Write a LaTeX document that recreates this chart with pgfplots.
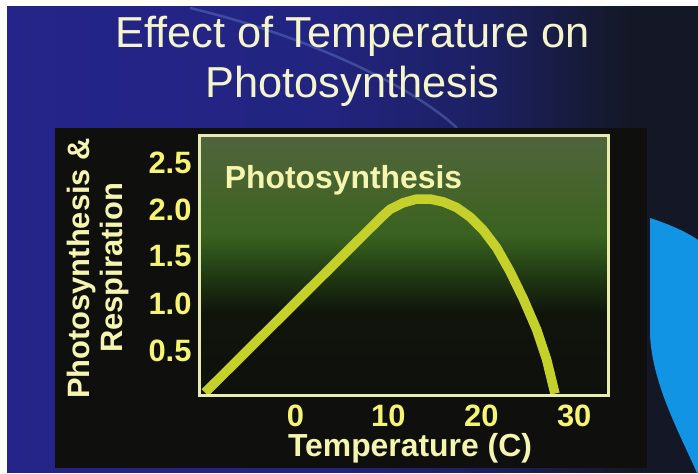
\documentclass[border=0pt]{standalone}
\usepackage{pgfplots}
\pgfplotsset{compat=1.18}
\usepackage{fontspec}
\setmainfont{Liberation Sans}

\definecolor{sb1}{RGB}{36,36,138}
\definecolor{sb2}{RGB}{34,36,128}
\definecolor{sb3}{RGB}{28,32,96}
\definecolor{sb4}{RGB}{20,24,38}
\definecolor{streak}{RGB}{120,150,220}
\definecolor{swoosh}{RGB}{18,148,228}
\definecolor{panel}{RGB}{15,16,14}
\definecolor{pb0}{RGB}{14,16,12}
\definecolor{pb1}{RGB}{16,21,12}
\definecolor{pb2}{RGB}{30,55,18}
\definecolor{pb3}{RGB}{58,98,32}
\definecolor{pb4}{RGB}{70,100,44}
\definecolor{pb5}{RGB}{80,100,62}
\definecolor{titlecol}{RGB}{245,245,205}
\definecolor{tickcol}{RGB}{245,245,115}
\definecolor{labcol}{RGB}{245,245,175}
\definecolor{curvecol}{RGB}{198,208,42}
\definecolor{boxcol}{RGB}{232,236,172}

\pgfdeclarehorizontalshading{slidebg}{100bp}{color(0bp)=(sb1); color(25bp)=(sb1); color(48bp)=(sb2); color(60bp)=(sb3); color(70bp)=(sb4); color(100bp)=(sb4)}
\pgfdeclareverticalshading{plotbg}{100bp}{color(0bp)=(pb0); color(25bp)=(pb0); color(41bp)=(pb1); color(47.5bp)=(pb2); color(56bp)=(pb3); color(65bp)=(pb4); color(75bp)=(pb5); color(100bp)=(pb5)}

\begin{document}
\begin{tikzpicture}[x=1bp,y=1bp]
\useasboundingbox (0,0) rectangle (698,474);
\fill[white] (0,0) rectangle (698,474);
\shade[shading=slidebg] (7,1) rectangle (698,467);
\draw[line width=2.5bp, color=streak, opacity=0.35] (190,466) .. controls (300,440) and (410,390) .. (457,346);
\fill[swoosh] (650,256) -- (650,140) .. controls (652,90) and (680,40) .. (697,1) -- (698,1) -- (698,234) .. controls (685,243) and (668,250) .. cycle;
\fill[panel] (55,6) rectangle (647,346);
\node[anchor=base, text=titlecol, font=\fontsize{43.5}{47}\selectfont, inner sep=0pt] at (352.5,426) {Effect of Temperature on};
\node[anchor=base, text=titlecol, font=\fontsize{43.5}{47}\selectfont, inner sep=0pt] at (352.5,376) {Photosynthesis};
\node[anchor=base, rotate=90, text=labcol, font=\fontsize{31}{33}\selectfont\bfseries, inner sep=0pt] at (89,205.5) {Photosynthesis \&};
\node[anchor=base, rotate=90, text=labcol, font=\fontsize{31}{33}\selectfont\bfseries, inner sep=0pt] at (122,206) {Respiration};
\begin{axis}[
  at={(199.5bp,78.5bp)}, anchor=south west,
  scale only axis, width=408.5bp, height=260bp,
  xmin=-10.33, xmax=33.64, ymin=0, ymax=2.766,
  xtick={0,10,20,30}, ytick={0.5,1,1.5,2,2.5},
  major tick length=0pt,
  axis line style={draw=boxcol, line width=3bp},
  axis background/.style={shading=plotbg},
  axis on top,
  /pgf/number format/assume math mode=true,
  yticklabel style={/pgf/number format/fixed, /pgf/number format/fixed zerofill, /pgf/number format/precision=1,
    anchor=east, inner sep=0pt, xshift=-7.8bp, yshift=-2bp, text=tickcol, font=\fontsize{31}{31}\selectfont\bfseries},
  xticklabel style={anchor=north, inner sep=0pt, yshift=-9.5bp, text=tickcol, font=\fontsize{31}{31}\selectfont\bfseries},
  xlabel={Temperature (C)},
  xlabel style={at={(axis description cs:0.5153,-0.2365)}, anchor=base, inner sep=0pt, text=labcol, font=\fontsize{32}{32}\selectfont\bfseries},
]
\addplot[curvecol, line width=9.5bp, line join=round, line cap=butt] coordinates {
(-9.74,0.03) (9.28,1.90) (10.17,1.98) (11.6,2.05) (13.05,2.09) (14.48,2.09) (15.9,2.06) (17.35,2.0) (18.78,1.90) (20.2,1.76) (21.66,1.57) (23.09,1.32) (24.52,1.03) (25.96,0.70) (27.04,0.38) (27.93,0.02)
};
\node[anchor=base, inner sep=0pt, text=labcol, font=\fontsize{32}{32}\selectfont\bfseries] at (axis cs:5.17,2.197) {Photosynthesis};
\end{axis}
\end{tikzpicture}
\end{document}
